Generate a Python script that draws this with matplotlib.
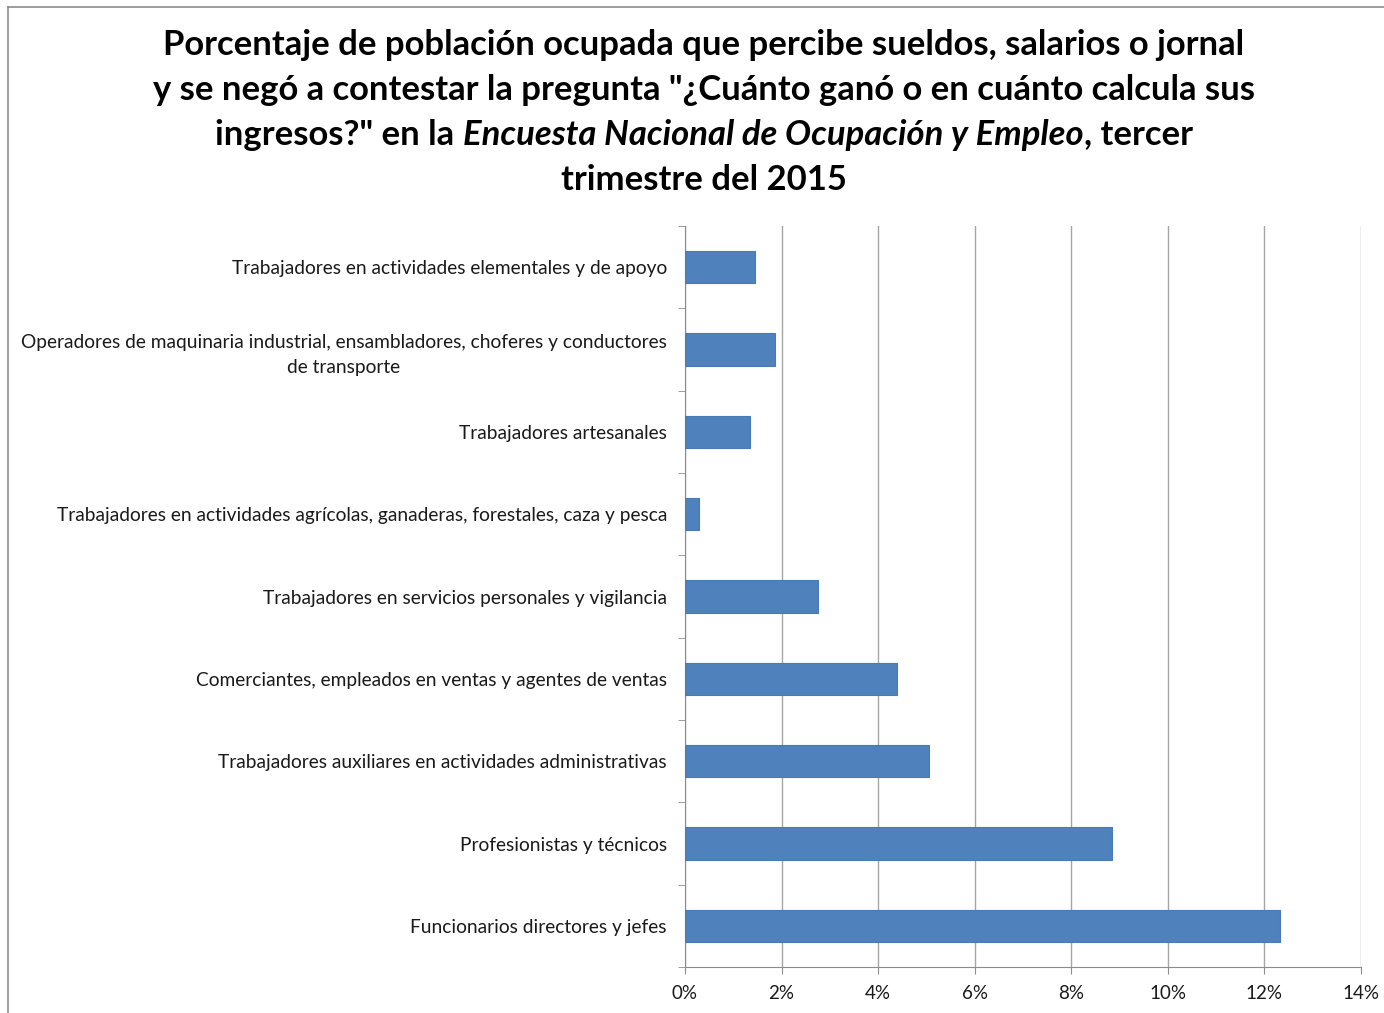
import matplotlib.pyplot as plt
from matplotlib.ticker import FuncFormatter, MultipleLocator
from matplotlib.lines import Line2D

plt.rcParams['font.family'] = ['Lato', 'DejaVu Sans']

# categorías de arriba hacia abajo
categorias = [
    "Trabajadores en actividades elementales y de apoyo",
    "Operadores de maquinaria industrial, ensambladores, choferes y conductores\nde transporte",
    "Trabajadores artesanales",
    "Trabajadores en actividades agrícolas, ganaderas, forestales, caza y pesca",
    "Trabajadores en servicios personales y vigilancia",
    "Comerciantes, empleados en ventas y agentes de ventas",
    "Trabajadores auxiliares en actividades administrativas",
    "Profesionistas y técnicos",
    "Funcionarios directores y jefes",
]
porcentajes = [1.45, 1.86, 1.35, 0.28, 2.75, 4.39, 5.05, 8.84, 12.32]

W, H = 1384, 1013
fig = plt.figure(figsize=(W / 100, H / 100), dpi=100)
ax = fig.add_axes([685 / W, 1 - 967 / H, (1361 - 685) / W, (967 - 226) / H])

pos = list(range(len(categorias)))[::-1]
ax.barh(pos, porcentajes, height=0.39, color='#4f81bd', edgecolor='#4a7ab5', linewidth=0.8, zorder=3)

ax.set_xlim(0, 14)
ax.set_ylim(-0.5, len(categorias) - 0.5)
ax.xaxis.set_major_locator(MultipleLocator(2))
ax.xaxis.set_major_formatter(FuncFormatter(lambda v, p: f"{v:.0f}%"))
ax.grid(axis='x', color='#a6a6a6', linewidth=1.0, zorder=0)

# marcas del eje y entre categorías
ax.set_yticks([p + 0.5 for p in range(-1, len(categorias))], minor=True)
ax.set_yticks(pos)
ax.set_yticklabels(categorias, fontsize=13.8, color='#1a1a1a', linespacing=1.55)
ax.tick_params(axis='y', which='major', length=0, pad=13)
ax.tick_params(axis='y', which='minor', length=5, color='#8c8c8c')
ax.tick_params(axis='x', length=5, color='#8c8c8c', labelsize=13.5, labelcolor='#1a1a1a', pad=8)
for lbl in ax.get_yticklabels():
    lbl.set_multialignment('center')

for s in ['top', 'right']:
    ax.spines[s].set_visible(False)
for s in ['left', 'bottom']:
    ax.spines[s].set_color('#8c8c8c')

# marco del gráfico
fig.add_artist(Line2D([8 / W, 8 / W], [0, 1 - 7 / H], color='#8c8c8c', lw=1.2))
fig.add_artist(Line2D([8 / W, 1], [1 - 7 / H, 1 - 7 / H], color='#8c8c8c', lw=1.2))

# título
tsize = 24.9
cx = 704 / W
lineas = [
    "Porcentaje de población ocupada que percibe sueldos, salarios o jornal",
    "y se negó a contestar la pregunta \"¿Cuánto ganó o en cuánto calcula sus",
]
ys = [45, 90, 135, 180]
for t, y in zip(lineas, ys):
    fig.text(cx, 1 - y / H, t, ha='center', va='center', fontsize=tsize, fontweight='bold')
fig.text(cx, 1 - ys[3] / H, "trimestre del 2015", ha='center', va='center', fontsize=tsize, fontweight='bold')

# tercera línea con parte en cursiva
partes = [("ingresos?\" en la ", 'normal'),
          ("Encuesta Nacional de Ocupación y Empleo", 'italic'),
          (", tercer", 'normal')]
r = fig.canvas.get_renderer()
objs = []
for txt, st in partes:
    o = fig.text(0, 1 - ys[2] / H, txt, ha='left', va='center', fontsize=tsize,
                 fontweight='bold', fontstyle=st)
    objs.append(o)
anchos = [o.get_window_extent(r).width for o in objs]
x = cx * W - sum(anchos) / 2
for o, w in zip(objs, anchos):
    o.set_x(x / W)
    x += w

fig.savefig('out.png', dpi=100, facecolor='white')
